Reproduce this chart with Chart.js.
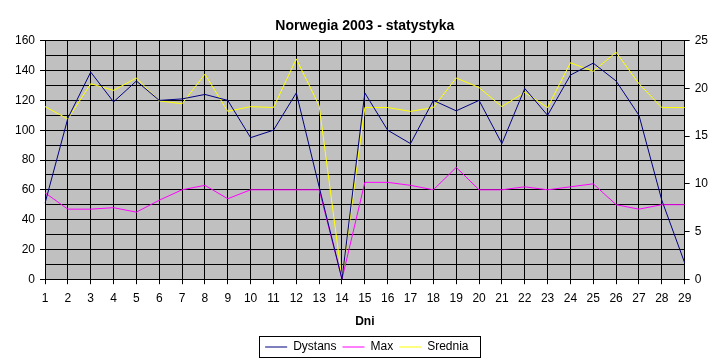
<!DOCTYPE html>
<html><head><meta charset="utf-8">
<script src="https://cdn.jsdelivr.net/npm/chart.js@4/dist/chart.umd.min.js"></script>
<style>html,body{margin:0;padding:0;background:#fff}#wrap{width:721px;height:361px}</style>
</head><body><div id="wrap"><canvas id="c"></canvas></div>
<script>
const days = ['1','2','3','4','5','6','7','8','9','10','11','12','13','14','15','16','17','18','19','20','21','22','23','24','25','26','27','28','29'];
const dystans = [51,108,139,119,133,120,121,124,120,95,100,125,62,0,125,100,91,120,113,120,91,128,110,137,145,133,110,53,11];
const maxSpeed = [58,47,47,48,45,53,60,63,54,60,60,60,60,0,65,65,63,60,75,60,60,62,60,62,64,50,47,50,50];
const srednia = [18.1,16.8,20.5,19.8,21.1,18.7,18.4,21.5,17.6,18.1,18,23.1,18.2,0,18,18,17.6,18,21.1,20.1,18.1,19.6,18,22.7,21.8,23.8,20.5,18,18];
const leftTicks = {min:0, max:160, step:10, labelEvery:20};
const rightTicks = {min:0, max:25, step:5};

const FONT = '"Liberation Sans", Arial, sans-serif';
Chart.defaults.font.family = FONT;
Chart.defaults.font.size = 12;
Chart.defaults.color = '#000';

const bgPlugin = {id:'bg', beforeDraw(chart){const {ctx, chartArea:a} = chart; ctx.save(); ctx.fillStyle = '#c0c0c0'; ctx.fillRect(a.left, a.top, a.width, a.height); ctx.restore();}};
const legendShift = {id:'lshift', afterLayout(chart){ if(chart.legend){ chart.legend.left += 2; chart.legend.right += 2; } }};
const legendBox = {id:'lbox', afterDraw(chart){
  const hb = chart.legend && chart.legend.legendHitBoxes; if(!hb || !hb.length) return;
  let l = Infinity, r = -Infinity, t = Infinity, b = -Infinity;
  hb.forEach(h => {l = Math.min(l, h.left); r = Math.max(r, h.left + h.width); t = Math.min(t, h.top); b = Math.max(b, h.top + h.height);});
  const ctx = chart.ctx; ctx.save(); ctx.strokeStyle = '#000'; ctx.lineWidth = 1;
  ctx.strokeRect(Math.round(l - 6) + 0.5, Math.round(t - 5) + 0.5, Math.round(r - l + 18), Math.round(b - t + 9));
  ctx.restore();
}};

new Chart(document.getElementById('c'), {
  type: 'line',
  data: {
    labels: days,
    datasets: [
      {label:'Dystans', data:dystans, borderColor:'#000080', backgroundColor:'#000080', yAxisID:'y'},
      {label:'Max', data:maxSpeed, borderColor:'#ff00ff', backgroundColor:'#ff00ff', yAxisID:'y'},
      {label:'Srednia', data:srednia, borderColor:'#ffff00', backgroundColor:'#ffff00', yAxisID:'y1'}
    ]
  },
  options: {
    responsive: true, maintainAspectRatio: false, animation: false,
    elements: {line:{borderWidth:1, tension:0}, point:{radius:0, hoverRadius:0}},
    layout: {padding:{left:10, right:8, top:0, bottom:-2}},
    plugins: {
      tooltip: {enabled:false},
      title: {display:true, text:'Norwegia 2003 - statystyka', fullSize:false, font:{size:14, weight:'bold'}, padding:{top:18, bottom:6}, color:'#000'},
      legend: {position:'bottom', fullSize:false, labels:{boxWidth:22, boxHeight:1, padding:6, font:{size:12}, color:'#000',
        generateLabels(chart){return Chart.defaults.plugins.legend.labels.generateLabels(chart).map(x => Object.assign(x, {fillStyle:x.strokeStyle, lineWidth:0}));}}}
    },
    scales: {
      x: {type:'category', offset:false,
        grid:{color:'#000', lineWidth:1, tickLength:5, offset:false, tickColor:'#000'},
        border:{color:'#000'},
        ticks:{autoSkip:false, maxRotation:0, padding:7, color:'#000'},
        title:{display:true, text:'Dni', font:{size:12, weight:'bold'}, color:'#000', padding:{top:2, bottom:6}}},
      y: {position:'left', min:leftTicks.min, max:leftTicks.max,
        grid:{color:'#000', lineWidth:1, tickLength:5, tickColor: c => (c.tick && c.tick.value % leftTicks.labelEvery === 0) ? '#000' : 'rgba(0,0,0,0)'},
        border:{color:'#000'},
        ticks:{stepSize:leftTicks.step, autoSkip:false, padding:5, color:'#000', callback: v => v % leftTicks.labelEvery === 0 ? String(v) : ''}},
      y1: {position:'right', min:rightTicks.min, max:rightTicks.max,
        grid:{drawOnChartArea:false, color:'#000', tickLength:5},
        border:{color:'#000'},
        ticks:{stepSize:rightTicks.step, autoSkip:false, padding:5, color:'#000'}}
    }
  },
  plugins: [bgPlugin, legendShift, legendBox]
});
</script></body></html>
